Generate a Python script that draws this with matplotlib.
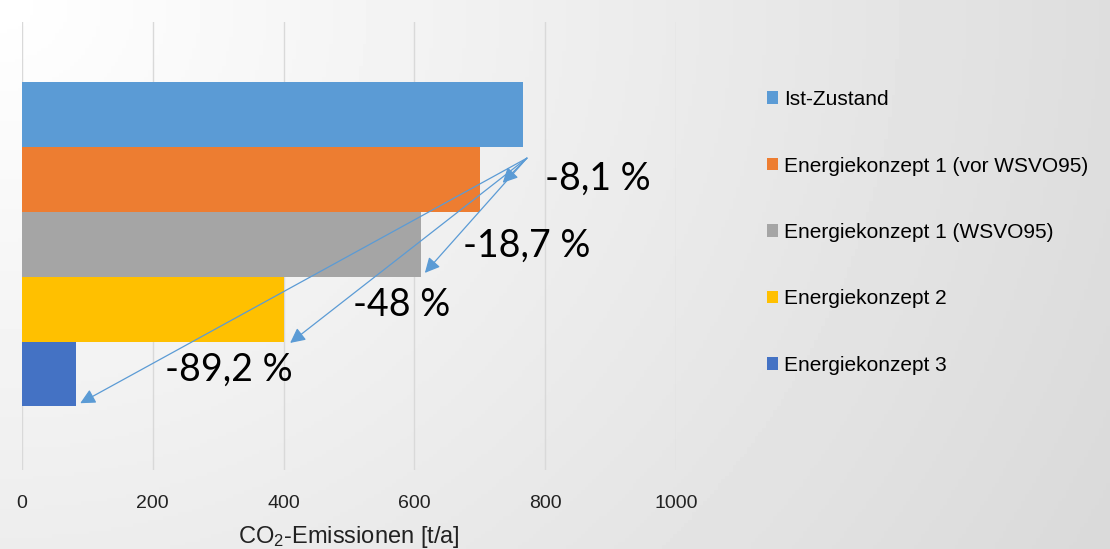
import matplotlib.pyplot as plt
from matplotlib.patches import Patch
import numpy as np

plt.rcParams["mathtext.fontset"] = "custom"
plt.rcParams["mathtext.rm"] = "Liberation Sans"
plt.rcParams["mathtext.default"] = "regular"

# data
labels = ["Ist-Zustand", "Energiekonzept 1 (vor WSVO95)", "Energiekonzept 1 (WSVO95)",
          "Energiekonzept 2", "Energiekonzept 3"]
values = [766, 700, 610, 400, 83]
colors = ["#5b9bd5", "#ed7d31", "#a5a5a5", "#ffc000", "#4472c4"]
reductions = ["-8,1 %", "-18,7 %", "-48 %", "-89,2 %"]
xticks = [0, 200, 400, 600, 800, 1000]

fig = plt.figure(figsize=(11.1, 5.49), dpi=100)

# background gradient (white top-left -> light grey right)
bg = fig.add_axes([0, 0, 1, 1], zorder=-10)
xx, yy = np.meshgrid(np.linspace(0, 1, 300), np.linspace(0, 1, 150))
shade = 1 - 0.13 * np.clip(np.sqrt((xx * 1.0) ** 2 + (yy * 0.55) ** 2), 0, 1.2)
bg.imshow(shade, cmap="gray", vmin=0, vmax=1, aspect="auto", extent=[0, 1, 0, 1], origin="upper")
bg.axis("off")

ax = fig.add_axes([22 / 1110, 1 - 470 / 549, 654 / 1110, 448 / 549])
ax.patch.set_alpha(0)
pos = np.arange(len(values))
ax.barh(pos, values, height=1.0, color=colors, zorder=2)
ax.set_xlim(0, 1000)
ax.set_ylim(4.5 + 0.98, -0.5 - 0.93)
ax.set_xticks(xticks)
ax.set_yticks([])
ax.grid(axis="x", color="#d9d9d9", lw=1, zorder=0)
for s in ax.spines.values():
    s.set_visible(False)
ax.tick_params(axis="x", length=0, pad=18, labelsize=14, labelcolor="#222222")
for t in ax.get_xticklabels():
    t.set_family("Liberation Sans")
ax.set_xlabel("CO$_2$-Emissionen [t/a]", fontsize=17, family="Liberation Sans",
              color="#222222", labelpad=9)

# arrows from a common point to each reduced bar
start = (772, 0.67)
ends = [(735, 1.05), (616, 2.44), (410, 3.52), (89, 4.45)]
for e in ends:
    ax.annotate("", xy=e, xytext=start,
                arrowprops=dict(arrowstyle="-|>,head_length=0.5,head_width=0.25",
                                color="#5b9bd5", lw=0.9,
                                mutation_scale=18, shrinkA=0, shrinkB=0))

label_pos = [(800, 0.98), (674, 2.02), (506, 2.93), (219, 3.93)]
for txt, (lx, ly) in zip(reductions, label_pos):
    ax.text(lx, ly, txt, fontsize=27, family="Lato", va="center", ha="left", color="black")

handles = [Patch(facecolor=c, edgecolor="none") for c in colors]
ax.legend(handles, labels, loc="upper left", bbox_to_anchor=(767 / 1110, 1 - 90 / 549),
          bbox_transform=fig.transFigure, frameon=False,
          prop={"family": "Liberation Sans", "size": 15},
          handlelength=0.55, handleheight=0.55, handletextpad=0.25, labelspacing=2.28,
          borderaxespad=0, borderpad=0)

fig.savefig("out.png", dpi=100)
